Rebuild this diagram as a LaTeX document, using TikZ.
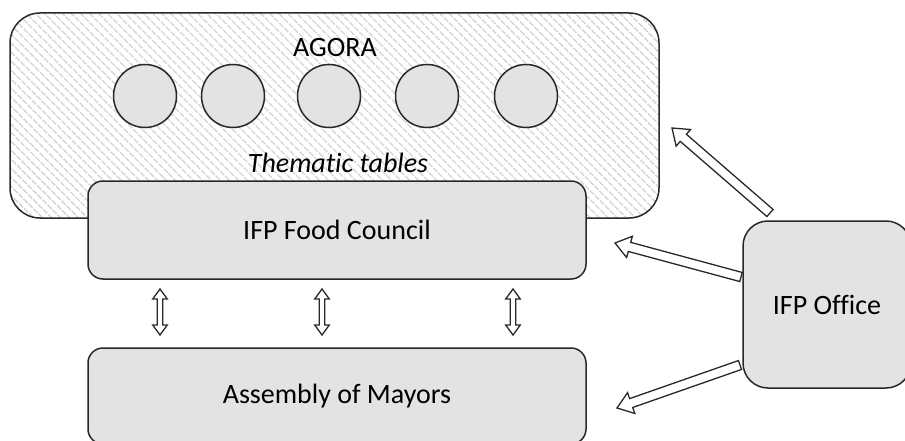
\documentclass[tikz,border=0pt]{standalone}
\usepackage{fontspec}
\setmainfont[Ligatures=NoCommon]{Carlito}
\usetikzlibrary{calc,patterns.meta}
\definecolor{boxgray}{RGB}{227,227,227}
\definecolor{hatchgray}{RGB}{212,212,212}
\definecolor{edgegray}{RGB}{40,40,40}
% fat hollow arrow from #1 to the tip #2
\newcommand\blockarrow[2]{%
  \coordinate (ba) at ($(#2)!15pt!(#1)$);
  \draw[arrowline] ($(#1)!4.7pt!90:(#2)$) -- ($(ba)!4.7pt!90:(#2)$) -- ($(ba)!11pt!90:(#2)$) -- (#2)
    -- ($(ba)!11pt!-90:(#2)$) -- ($(ba)!4.7pt!-90:(#2)$) -- ($(#1)!4.7pt!-90:(#2)$) -- cycle;
}
% hollow arrow with two heads, tips #1 and #2
\newcommand\twowayarrow[2]{%
  \coordinate (ta) at ($(#1)!10pt!(#2)$);
  \coordinate (tb) at ($(#2)!10pt!(#1)$);
  \draw[arrowline] (#1) -- ($(ta)!7.3pt!90:(#2)$) -- ($(ta)!2.8pt!90:(#2)$) -- ($(tb)!2.8pt!-90:(#1)$)
    -- ($(tb)!7.3pt!-90:(#1)$) -- (#2) -- ($(tb)!7.3pt!90:(#1)$) -- ($(tb)!2.8pt!90:(#1)$)
    -- ($(ta)!2.8pt!-90:(#2)$) -- ($(ta)!7.3pt!-90:(#2)$) -- cycle;
}
\begin{document}
\begin{tikzpicture}[x=1pt,y=-1pt,
    every node/.style={font=\fontsize{28}{33}\selectfont},
    panel/.style={draw=edgegray,line width=1.5pt,fill=boxgray,rounded corners=15pt,inner sep=0pt},
    tablecircle/.style={circle,draw=edgegray,line width=1.5pt,fill=boxgray,minimum size=63pt,inner sep=0pt},
    arrowline/.style={draw=edgegray,line width=1.3pt,fill=white,line join=miter}]
  \useasboundingbox (0,0) rectangle (905,441);
  \node[draw=edgegray,line width=1.5pt,rounded corners=30pt,inner sep=0pt,
    pattern={Lines[angle=-45,distance=6.5pt,line width=1.6pt]},pattern color=hatchgray,
    minimum width=649pt,minimum height=205pt] (agora) at (334.5,115.5) {};
  \node (agoratitle) at (335,48) {AGORA};
  \foreach \cx [count=\i] in {145,233,329,427,526}
    \node[tablecircle] (table\i) at (\cx,96) {};
  \node[font=\fontsize{28}{33}\selectfont\itshape] (thematic) at (338,163) {Thematic tables};
  \node[panel,minimum width=498pt,minimum height=98pt] (council) at (337,230) {IFP Food Council};
  \node[panel,minimum width=498pt,minimum height=96pt] (assembly) at (337,396) {Assembly of Mayors};
  \node[panel,rounded corners=25pt,minimum width=168pt,minimum height=167pt] (office) at (827,304.5) {IFP Office};
  \foreach \ax [count=\i] in {160,322,513} {
    \coordinate (up\i) at (\ax,289);
    \coordinate (dn\i) at (\ax,335);
    \twowayarrow{up\i}{dn\i}
  }
  \coordinate (o1) at (770,213); \coordinate (a1) at (672,128);
  \coordinate (o2) at (741,277); \coordinate (a2) at (615,243);
  \coordinate (o3) at (740,365); \coordinate (a3) at (617,408);
  \blockarrow{o1}{a1}
  \blockarrow{o2}{a2}
  \blockarrow{o3}{a3}
\end{tikzpicture}
\end{document}
